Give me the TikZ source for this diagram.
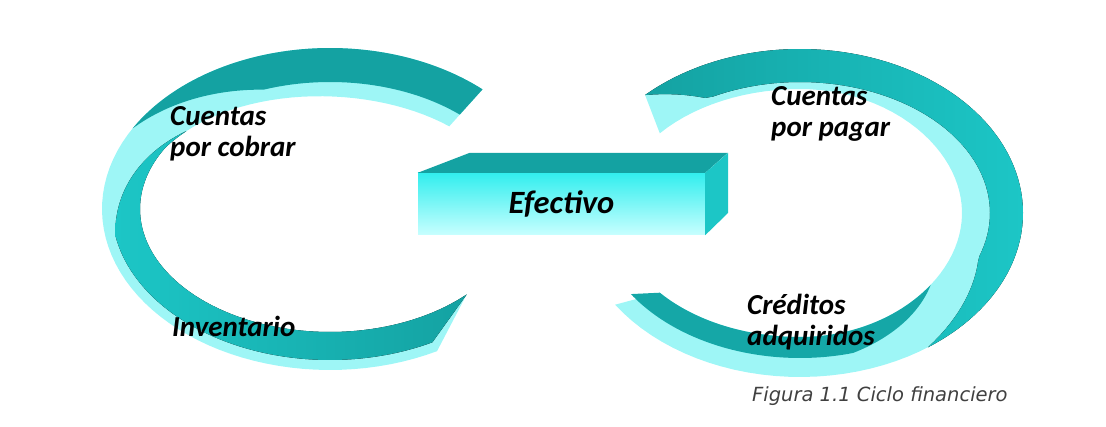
\documentclass[tikz,border=0pt]{standalone}
\usepackage{fontspec}
\newfontfamily\etiq{Carlito}
\newfontfamily\pie{DejaVu Sans}
\definecolor{tealosc}{RGB}{20,162,162}
\definecolor{turq}{RGB}{28,198,198}
\definecolor{celeste}{RGB}{158,246,246}
\definecolor{cajacian}{RGB}{50,238,238}
\definecolor{cajaclaro}{RGB}{200,255,255}
\begin{document}
\begin{tikzpicture}[x=1pt, y=-1pt, line join=round, line cap=round, samples=80,
  declare function={izqx(\t,\w)=330+(228-\w)*cos(\t); izqy(\t,\w)=209-(161-\w)*sin(\t);
    derx(\t,\w)=800+(223-\w)*cos(\t); dery(\t,\w)=213-(164-\w)*sin(\t);
    win(\t)=38+12*max(0,cos(\t-60)); wd(\t)=34*min(1,(150-\t)/40); wo(\t)=10+30*max(0,(190-\t)/50);
    wr(\t)=40+21*max(0,cos(\t))^2; wf(\t)=33*min(1,(\t+55)/35,(134-\t)/15); wb(\t)=19+(wr(\t)-19)*max(0,(\t+75)/35);},
  lbl/.style={font=\etiq\bfseries\itshape\fontsize{29}{31}\selectfont, inner sep=0pt, align=left, anchor=north west}]
\useasboundingbox (0,0) rectangle (1106,427);
% C izquierda
\fill[celeste] plot[domain=48:298] ({izqx(\x,0)},{izqy(\x,0)}) -- plot[domain=316:48] ({izqx(\x,win(\x))},{izqy(\x,win(\x))}) -- cycle;
\fill[tealosc] plot[domain=48:150] ({izqx(\x,0)},{izqy(\x,0)}) -- plot[domain=150:48] ({izqx(\x,wd(\x))},{izqy(\x,wd(\x))}) -- cycle;
\fill[left color=turq, right color=tealosc] plot[domain=140:298] ({izqx(\x,wo(\x))},{izqy(\x,wo(\x))}) -- plot[domain=316:140] ({izqx(\x,win(\x))},{izqy(\x,win(\x))}) -- cycle;
% C derecha
\fill[celeste] plot[domain=-146:134] ({derx(\x,0)},{dery(\x,0)}) -- plot[domain=140:-140] ({derx(\x,wr(\x))},{dery(\x,wr(\x))}) -- cycle;
\fill[left color=tealosc, right color=turq] plot[domain=-55:134] ({derx(\x,0)},{dery(\x,0)}) -- plot[domain=134:-55] ({derx(\x,wf(\x))},{dery(\x,wf(\x))}) -- cycle;
\fill[tealosc!85!turq] plot[domain=-140:-40] ({derx(\x,wr(\x))},{dery(\x,wr(\x))}) -- plot[domain=-40:-146] ({derx(\x,wb(\x))},{dery(\x,wb(\x))}) -- cycle;
% caja
\node[top color=cajacian, bottom color=cajaclaro, minimum width=287, minimum height=62, inner sep=0pt,
  font=\etiq\bfseries\itshape\fontsize{32.5}{34}\selectfont] (caja) at (561.5,204) {Efectivo};
\fill[tealosc] (caja.north west) -- ++(52,-20) -- ++(258,0) -- (caja.north east) -- cycle;
\fill[turq] (caja.north east) -- ++(23,-20) -- ++(0,60) -- (caja.south east) -- cycle;
% textos
\node[lbl] (cxc) at (170,106) {Cuentas\\por cobrar};
\node[lbl] (inv) at (172,316) {Inventario};
\node[lbl] (cxp) at (771,86) {Cuentas\\por pagar};
\node[lbl] (cred) at (747,294) {Créditos\\adquiridos};
\node[font=\pie\itshape\fontsize{19.5}{22}\selectfont, text=black!75, anchor=base west, inner sep=0pt] (fig) at (752,402) {Figura 1.1 Ciclo financiero};
\end{tikzpicture}
\end{document}
